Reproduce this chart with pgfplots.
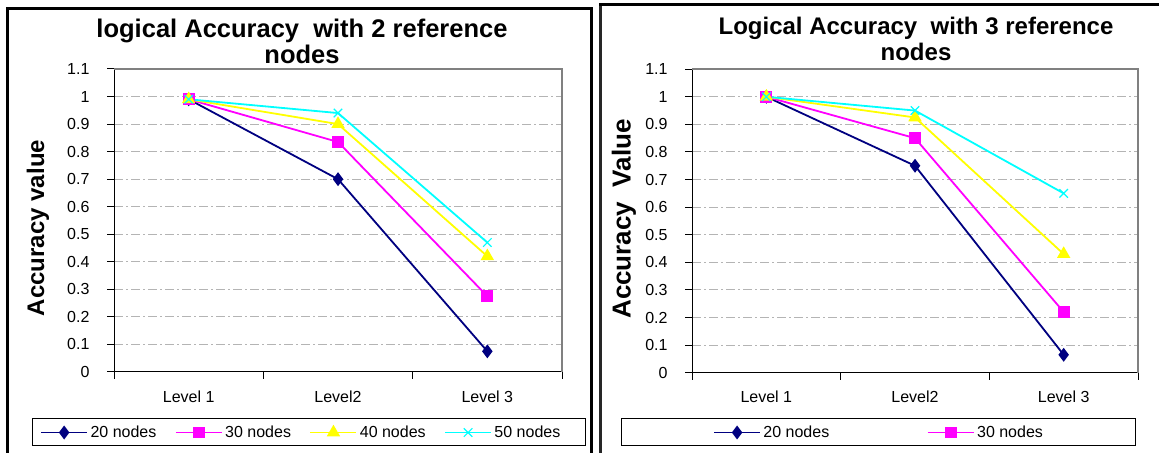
\documentclass[border=0pt]{standalone}
\usepackage{fontspec}
\setmainfont{Liberation Sans}
\usepackage{pgfplots}
\pgfplotsset{compat=1.18}
\definecolor{cNavy}{HTML}{000080}
\definecolor{cMag}{HTML}{FF00FF}
\definecolor{cYel}{HTML}{FFFF00}
\definecolor{cCyan}{HTML}{00FFFF}
\definecolor{cGrid}{HTML}{B4B4B4}
\definecolor{cBorder}{HTML}{808080}
\newcommand{\titlefont}{\fontsize{25.5bp}{27bp}\selectfont\bfseries}
\newcommand{\titlefontR}{\fontsize{24bp}{26bp}\selectfont\bfseries}
\newcommand{\ylabfont}{\fontsize{24bp}{26bp}\selectfont\bfseries}
\newcommand{\ylabfontR}{\fontsize{26bp}{28bp}\selectfont\bfseries}
\newcommand{\smallfont}{\fontsize{16bp}{18bp}\selectfont}

\pgfplotsset{
  panel/.style={
    scale only axis,
    xmin=0.5, xmax=3.5, ymin=0, ymax=1.1,
    xtick={0.5,1.5,2.5,3.5}, xticklabels={},
    extra x ticks={1,2,3},
    extra x tick labels={Level 1,Level2,Level 3},
    extra x tick style={major tick length=0pt, xticklabel style={yshift=-15bp}},
    ytick={0,0.1,0.2,0.3,0.4,0.5,0.6,0.7,0.8,0.9,1,1.1},
    yticklabels={0,0.1,0.2,0.3,0.4,0.5,0.6,0.7,0.8,0.9,1,1.1},
    yticklabel style={xshift=-14bp},
    axis x line*=bottom, axis y line*=left,
    tick align=outside,
    major tick length=7bp,
    tick style={black, line width=1bp},
    axis line style={black, line width=1bp},
    ymajorgrids,
    major grid style={line width=1bp, color=cGrid, dash pattern=on 9bp off 3bp on 2bp off 3bp},
    tick label style={font=\smallfont},
    /pgf/number format/assume math mode=true,
    clip=false,
    every axis plot/.append style={line width=1.8bp},
    legend style={draw=none, fill=none, inner sep=0pt, font=\smallfont,
      nodes={inner sep=1.5bp}},
    legend cell align=left,
    legend image code/.code={\draw[mark repeat=2,mark phase=2,##1] plot coordinates {(0bp,0bp)(23bp,0bp)(46bp,0bp)};},
    extra description/.code={\draw[color=cBorder, line width=1.5bp] (rel axis cs:0,1) -- (rel axis cs:1,1) -- (rel axis cs:1,0);},
  },
  s20/.style={color=cNavy, mark=diamond*, mark size=5.5bp, mark options={solid}},
  s30/.style={color=cMag, mark=square*, mark size=5bp, mark options={solid}},
  s40/.style={color=cYel, mark=triangle*, mark size=6bp, mark options={solid}},
  s50/.style={color=cCyan, mark=x, mark size=6bp, mark options={solid, line width=1.2bp}},
}

\begin{document}
\begin{tikzpicture}[x=1bp,y=1bp]
\useasboundingbox (0,0) rectangle (1159,453);
\clip (0,0) rectangle (1159,453);
\fill[white] (0,0) rectangle (1159,453);

% panel frames
\draw[line width=3bp, black] (7,-10) -- (7,444.5) -- (591,444.5) -- (591,-10);
\draw[line width=2.5bp, black!85] (600.5,-10) -- (600.5,448);
\draw[line width=3bp, black] (599,448) -- (1170,448);

% legend boxes
\draw[line width=1bp, black] (32,7) rectangle (585,34);
\draw[line width=1bp, black] (621,7) rectangle (1135,34);

% ---------------- left panel ----------------
\begin{axis}[panel,
  at={(114bp,81bp)}, anchor=south west,
  width=448bp, height=303bp,
  legend columns=4,
  legend style={at={(axis description cs:-0.165,-0.1997)}, anchor=west,
    /tikz/every odd column/.append style={column sep=1bp},
    /tikz/every even column/.append style={column sep=17bp}},
]
\addplot[s20] coordinates {(1,0.99) (2,0.70) (3,0.075)};
\addlegendentry{20 nodes}
\addplot[s30] coordinates {(1,0.99) (2,0.835) (3,0.275)};
\addlegendentry{30 nodes}
\addplot[s40] coordinates {(1,0.99) (2,0.90) (3,0.42)};
\addlegendentry{40 nodes}
\addplot[s50] coordinates {(1,0.99) (2,0.94) (3,0.47)};
\addlegendentry{50 nodes}
\end{axis}

% ---------------- right panel ----------------
\begin{axis}[panel,
  at={(692bp,80.3bp)}, anchor=south west,
  width=446bp, height=303.5bp,
  legend columns=2,
  legend style={at={(axis description cs:0.047,-0.197)}, anchor=west,
    /tikz/every odd column/.append style={column sep=1bp},
    /tikz/every even column/.append style={column sep=96bp}},
]
\addplot[s20] coordinates {(1,1.0) (2,0.75) (3,0.065)};
\addlegendentry{20 nodes}
\addplot[s30] coordinates {(1,1.0) (2,0.85) (3,0.22)};
\addlegendentry{30 nodes}
\addplot[s40, forget plot] coordinates {(1,1.0) (2,0.925) (3,0.43)};
\addplot[s50, forget plot] coordinates {(1,1.0) (2,0.95) (3,0.65)};
\end{axis}

% titles and axis labels
\node[anchor=base, font=\titlefont] at (302,415) {logical Accuracy\ \ with 2 reference};
\node[anchor=base, font=\titlefont] at (302,389) {nodes};
\node[anchor=base, font=\titlefontR] at (916,418) {Logical Accuracy\ \ with 3 reference};
\node[anchor=base, font=\titlefontR] at (916,392) {nodes};
\node[rotate=90, font=\ylabfont] at (38,225) {Accuracy value};
\node[rotate=90, font=\ylabfontR] at (624,234) {Accuracy\ \ Value};
\end{tikzpicture}
\end{document}
